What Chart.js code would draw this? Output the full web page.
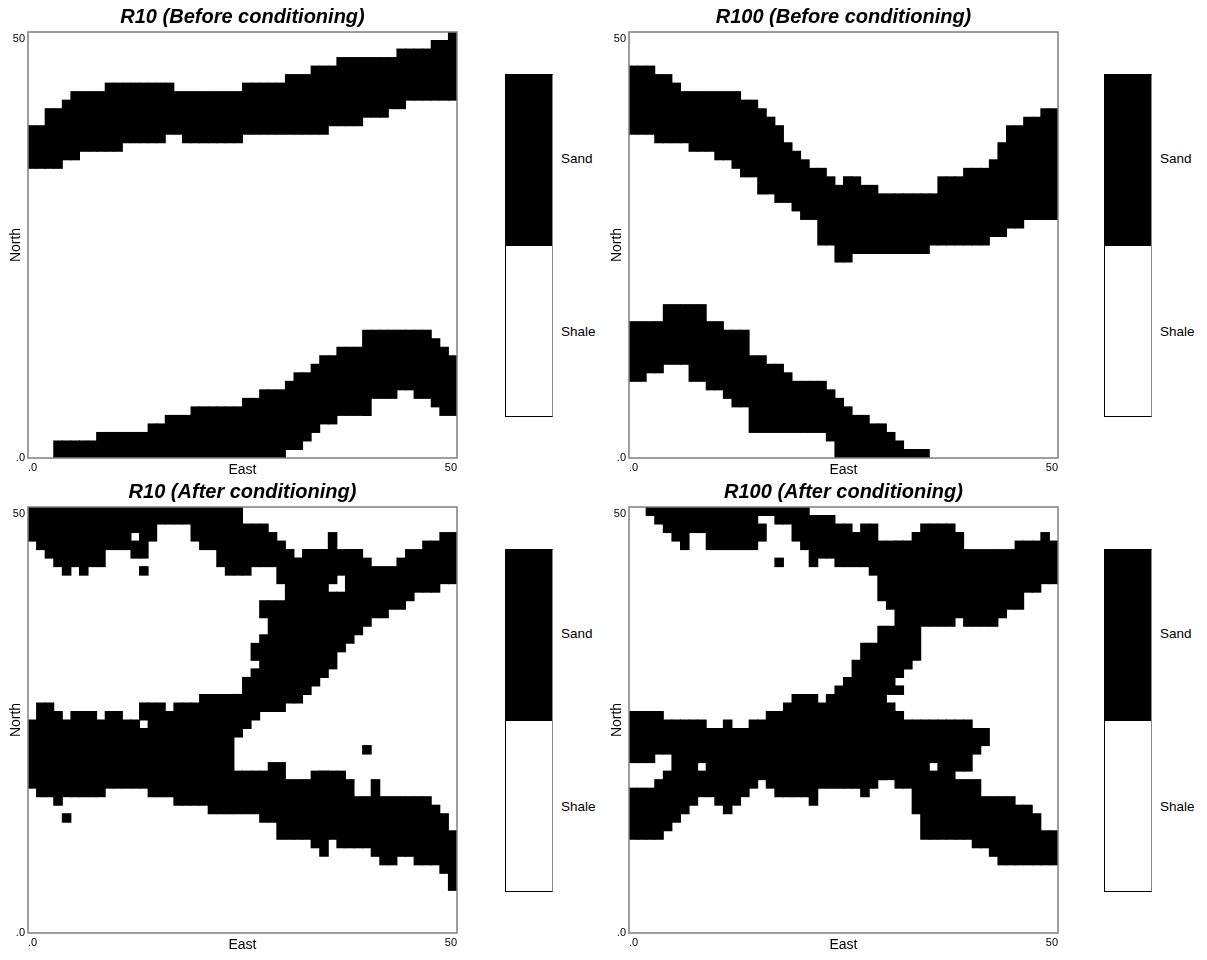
<!DOCTYPE html>
<html>
<head>
<meta charset="utf-8">
<title>Sand / shale realizations</title>
<script src="https://cdn.jsdelivr.net/npm/chart.js@4.4.1/dist/chart.umd.min.js"></script>
<style>
  body { margin: 0; background: #fff; width: 1207px; height: 960px; position: relative; overflow: hidden;
         font-family: 'Liberation Sans', Arial, sans-serif; }
  canvas { position: absolute; }
  .cbar { position: absolute; width: 46px; height: 341px; border: 1px solid #000; border-right-color: #888; background: #fff; }
  .cbar div { height: 50%; background: #000; }
  .lbl { position: absolute; font-size: 13.5px; line-height: 16px; color: #000; }
</style>
</head>
<body>
<canvas id="r10before" width="485" height="480" style="left:0;top:0"></canvas>
<canvas id="r100before" width="485" height="480" style="left:601px;top:0"></canvas>
<canvas id="r10after" width="485" height="480" style="left:0;top:475px"></canvas>
<canvas id="r100after" width="485" height="480" style="left:601px;top:475px"></canvas>

<div class="cbar" style="left:505px;top:74px"><div></div></div>
<div class="lbl" style="left:561px;top:151px">Sand</div>
<div class="lbl" style="left:561px;top:324px">Shale</div>
<div class="cbar" style="left:1104px;top:74px"><div></div></div>
<div class="lbl" style="left:1160px;top:151px">Sand</div>
<div class="lbl" style="left:1160px;top:324px">Shale</div>
<div class="cbar" style="left:505px;top:549px"><div></div></div>
<div class="lbl" style="left:561px;top:626px">Sand</div>
<div class="lbl" style="left:561px;top:799px">Shale</div>
<div class="cbar" style="left:1104px;top:549px"><div></div></div>
<div class="lbl" style="left:1160px;top:626px">Sand</div>
<div class="lbl" style="left:1160px;top:799px">Shale</div>

<script>
// grid columns along East (cell index, 50 cells)
const eastCells = [0, 1, 2, 3, 4, 5, 6, 7, 8, 9, 10, 11, 12, 13, 14, 15, 16, 17, 18, 19,
  20, 21, 22, 23, 24, 25, 26, 27, 28, 29, 30, 31, 32, 33, 34, 35, 36, 37, 38, 39,
  40, 41, 42, 43, 44, 45, 46, 47, 48, 49];
const gridTicks = [0, 50];

// sand runs per column: [from, to] in North cells
const r10BeforeSand = [
  [[34, 39]], [[34, 39]], [[34, 41]], [[34, 41], [0, 2]], [[35, 42], [0, 2]],
  [[35, 43], [0, 2]], [[36, 43], [0, 2]], [[36, 43], [0, 2]], [[36, 43], [0, 3]], [[36, 44], [0, 3]],
  [[36, 44], [0, 3]], [[37, 44], [0, 3]], [[37, 44], [0, 3]], [[37, 44], [0, 3]], [[37, 44], [0, 4]],
  [[37, 44], [0, 4]], [[38, 44], [0, 5]], [[38, 43], [0, 5]], [[37, 43], [0, 5]], [[37, 43], [0, 6]],
  [[37, 43], [0, 6]], [[37, 43], [0, 6]], [[37, 43], [0, 6]], [[37, 43], [0, 6]], [[37, 43], [0, 6]],
  [[38, 44], [0, 7]], [[38, 44], [0, 7]], [[38, 44], [0, 8]], [[38, 44], [0, 8]], [[38, 44], [0, 8]],
  [[38, 45], [1, 9]], [[38, 45], [1, 10]], [[38, 45], [2, 10]], [[38, 46], [3, 11]], [[38, 46], [4, 12]],
  [[39, 46], [4, 12]], [[39, 47], [5, 13]], [[39, 47], [5, 13]], [[39, 47], [5, 13]], [[40, 47], [5, 15]],
  [[40, 47], [7, 15]], [[40, 47], [7, 15]], [[41, 47], [7, 15]], [[41, 48], [8, 15]], [[42, 48], [8, 15]],
  [[42, 48], [7, 15]], [[42, 48], [7, 15]], [[42, 49], [6, 14]], [[42, 49], [5, 13]], [[42, 50], [5, 12]]
];

const r100BeforeSand = [
  [[38, 46], [9, 16]], [[38, 46], [9, 16]], [[38, 46], [10, 16]], [[37, 45], [10, 16]], [[37, 45], [11, 18]],
  [[37, 44], [11, 18]], [[37, 43], [11, 18]], [[36, 43], [9, 18]], [[36, 43], [9, 18]], [[36, 43], [8, 16]],
  [[35, 43], [8, 16]], [[35, 43], [7, 15]], [[34, 43], [6, 15]], [[33, 42], [6, 15]], [[33, 42], [3, 12]],
  [[31, 41], [3, 12]], [[31, 40], [3, 11]], [[30, 39], [3, 11]], [[30, 37], [3, 10]], [[29, 36], [3, 9]],
  [[28, 35], [3, 9]], [[28, 34], [3, 9]], [[25, 34], [3, 9]], [[25, 33], [2, 8]], [[23, 32], [0, 7]],
  [[23, 33], [0, 6]], [[24, 33], [0, 5]], [[24, 32], [0, 5]], [[24, 32], [0, 4]], [[24, 31], [0, 4]],
  [[24, 31], [0, 3]], [[24, 31], [0, 2]], [[24, 31], [0, 1]], [[24, 31], [0, 1]], [[24, 31], [0, 1]],
  [[25, 31]], [[25, 33]], [[25, 33]], [[25, 33]], [[25, 34]],
  [[25, 34]], [[25, 34]], [[26, 35]], [[26, 37]], [[27, 39]],
  [[27, 39]], [[28, 40]], [[28, 40]], [[28, 41]], [[28, 41]]
];

const r10AfterSand = [
  [[46, 50], [17, 25]],
  [[45, 50], [16, 27]],
  [[44, 50], [16, 27]],
  [[43, 50], [15, 26]],
  [[42, 50], [16, 25], [13, 14]],
  [[43, 50], [16, 26]],
  [[42, 50], [16, 26]],
  [[43, 50], [16, 26]],
  [[43, 50], [16, 25]],
  [[45, 50], [17, 26]],
  [[45, 50], [17, 26]],
  [[45, 50], [17, 25]],
  [[47, 50], [44, 46], [17, 25]],
  [[44, 50], [42, 43], [25, 27], [17, 24]],
  [[46, 50], [16, 27]],
  [[48, 50], [16, 27]],
  [[48, 50], [16, 26]],
  [[48, 50], [15, 27]],
  [[48, 50], [15, 27]],
  [[46, 50], [15, 27]],
  [[45, 50], [15, 28]],
  [[45, 50], [14, 28]],
  [[43, 50], [14, 28]],
  [[42, 50], [14, 28]],
  [[42, 50], [23, 28], [14, 19]],
  [[42, 48], [24, 30], [14, 19]],
  [[43, 48], [32, 34], [25, 31], [14, 19]],
  [[43, 48], [37, 39], [26, 35], [13, 19]],
  [[43, 47], [26, 39], [13, 20]],
  [[41, 46], [26, 39], [11, 20]],
  [[27, 45], [11, 18]],
  [[27, 44], [11, 18]],
  [[28, 45], [11, 18]],
  [[29, 45], [10, 19]],
  [[30, 45], [9, 19]],
  [[41, 47], [31, 40], [11, 19]],
  [[42, 45], [33, 40], [10, 19]],
  [[34, 45], [10, 18]],
  [[35, 45], [10, 16]],
  [[36, 44], [21, 22], [10, 16]],
  [[37, 43], [9, 18]],
  [[37, 43], [8, 16]],
  [[38, 43], [8, 16]],
  [[38, 44], [9, 16]],
  [[39, 45], [9, 16]],
  [[40, 45], [8, 16]],
  [[40, 46], [8, 16]],
  [[40, 46], [8, 15]],
  [[41, 47], [7, 14]],
  [[41, 47], [5, 12]]
];

const r100AfterSand = [
  [[20, 26], [11, 17]],
  [[20, 26], [11, 17]],
  [[49, 50], [20, 26], [11, 17]],
  [[48, 50], [21, 26], [11, 18]],
  [[47, 50], [21, 25], [12, 19]],
  [[46, 50], [13, 25]],
  [[45, 50], [14, 25]],
  [[47, 50], [15, 25]],
  [[47, 50], [20, 25], [16, 19]],
  [[45, 50], [16, 24]],
  [[45, 50], [15, 24]],
  [[45, 50], [14, 25]],
  [[45, 50], [15, 24]],
  [[45, 50], [16, 24]],
  [[45, 50], [17, 25]],
  [[49, 50], [46, 48], [18, 25]],
  [[49, 50], [17, 26]],
  [[48, 50], [43, 44], [16, 26]],
  [[48, 50], [16, 27]],
  [[46, 50], [16, 28]],
  [[45, 50], [16, 28]],
  [[43, 49], [15, 28]],
  [[44, 49], [17, 27]],
  [[44, 49], [17, 28]],
  [[43, 48], [17, 29]],
  [[43, 48], [17, 30]],
  [[43, 47], [17, 32]],
  [[43, 48], [16, 34]],
  [[42, 48], [17, 34]],
  [[39, 46], [18, 36]],
  [[38, 46], [28, 36], [18, 27]],
  [[30, 46], [28, 29], [17, 26]],
  [[31, 46], [17, 25]],
  [[32, 47], [14, 25]],
  [[36, 48], [11, 25]],
  [[36, 48], [20, 25], [11, 19]],
  [[36, 48], [11, 25]],
  [[36, 48], [11, 25]],
  [[37, 47], [19, 25], [11, 18]],
  [[36, 45], [19, 25], [11, 18]],
  [[36, 45], [21, 24], [10, 18]],
  [[36, 45], [22, 24], [10, 16]],
  [[36, 45], [9, 16]],
  [[37, 45], [8, 16]],
  [[38, 45], [8, 16]],
  [[38, 46], [8, 15]],
  [[40, 46], [8, 15]],
  [[40, 46], [8, 14]],
  [[41, 47], [8, 12]],
  [[41, 46], [8, 12]]
];

const fontFamily = "'Liberation Sans', Arial, sans-serif";

// grey box round the plot area
const frame = {
  id: 'frame',
  afterDatasetsDraw(chart) {
    const { ctx, chartArea: a } = chart;
    ctx.save();
    ctx.strokeStyle = '#7f7f7f';
    ctx.lineWidth = 1.5;
    ctx.strokeRect(a.left, a.top, a.right - a.left, a.bottom - a.top);
    ctx.restore();
  }
};

function sandDatasets(columns) {
  let sets = [];
  columns.forEach((runs, i) => {
    runs.forEach((run, k) => {
      if (!sets[k]) {
        sets[k] = {
          data: [],
          backgroundColor: '#000',
          borderWidth: 0,
          inflateAmount: 0.5,
          barPercentage: 1,
          categoryPercentage: 1,
          grouped: false
        };
      }
      sets[k].data.push({ x: eastCells[i] + 0.5, y: run });
    });
  });
  return sets;
}

function drawMap(id, title, columns) {
  let ctx = document.getElementById(id).getContext('2d');
  let config = {
    type: 'bar',
    data: { datasets: sandDatasets(columns) },
    options: {
      responsive: false,
      animation: false,
      events: [],
      layout: { padding: { left: 0, right: 0, top: 0, bottom: 1 } },
      plugins: {
        legend: { display: false },
        tooltip: { enabled: false },
        title: {
          display: true,
          text: title,
          color: '#000',
          font: { family: fontFamily, size: 20, weight: 'bold', style: 'italic' },
          padding: { top: 5, bottom: 3 }
        }
      },
      scales: {
        x: {
          type: 'linear',
          min: gridTicks[0],
          max: gridTicks[1],
          offset: false,
          grid: { display: false, drawTicks: false },
          border: { display: false },
          ticks: {
            stepSize: 50,
            autoSkip: false,
            maxRotation: 0,
            align: 'inner',
            padding: 3,
            color: '#000',
            font: { family: fontFamily, size: 11 },
            callback: v => v === 0 ? '.0' : String(v)
          },
          title: { display: true, text: 'East', color: '#000', padding: 0,
                   font: { family: fontFamily, size: 14 } },
          afterFit: s => { s.height = 21; }
        },
        y: {
          type: 'linear',
          min: gridTicks[0],
          max: gridTicks[1],
          grid: { display: false, drawTicks: false },
          border: { display: false },
          ticks: {
            stepSize: 50,
            autoSkip: false,
            padding: 3,
            color: '#000',
            font: { family: fontFamily, size: 11 },
            callback: v => v === 0 ? '.0' : ['', String(v)]
          },
          title: { display: true, text: 'North', color: '#000', padding: { top: 8, bottom: 0 },
                   font: { family: fontFamily, size: 14 } },
          afterFit: s => { s.width = 28; }
        },
        // empty right-hand axis, keeps the plot (and title) centred in the canvas
        yRight: {
          type: 'linear',
          position: 'right',
          min: gridTicks[0],
          max: gridTicks[1],
          grid: { display: false, drawTicks: false },
          border: { display: false },
          ticks: { display: false },
          afterFit: s => { s.width = 28; }
        }
      }
    },
    plugins: [frame]
  };
  return new Chart(ctx, config);
}

drawMap('r10before', 'R10 (Before conditioning)', r10BeforeSand);
drawMap('r100before', 'R100 (Before conditioning)', r100BeforeSand);
drawMap('r10after', 'R10 (After conditioning)', r10AfterSand);
drawMap('r100after', 'R100 (After conditioning)', r100AfterSand);
</script>
</body>
</html>
